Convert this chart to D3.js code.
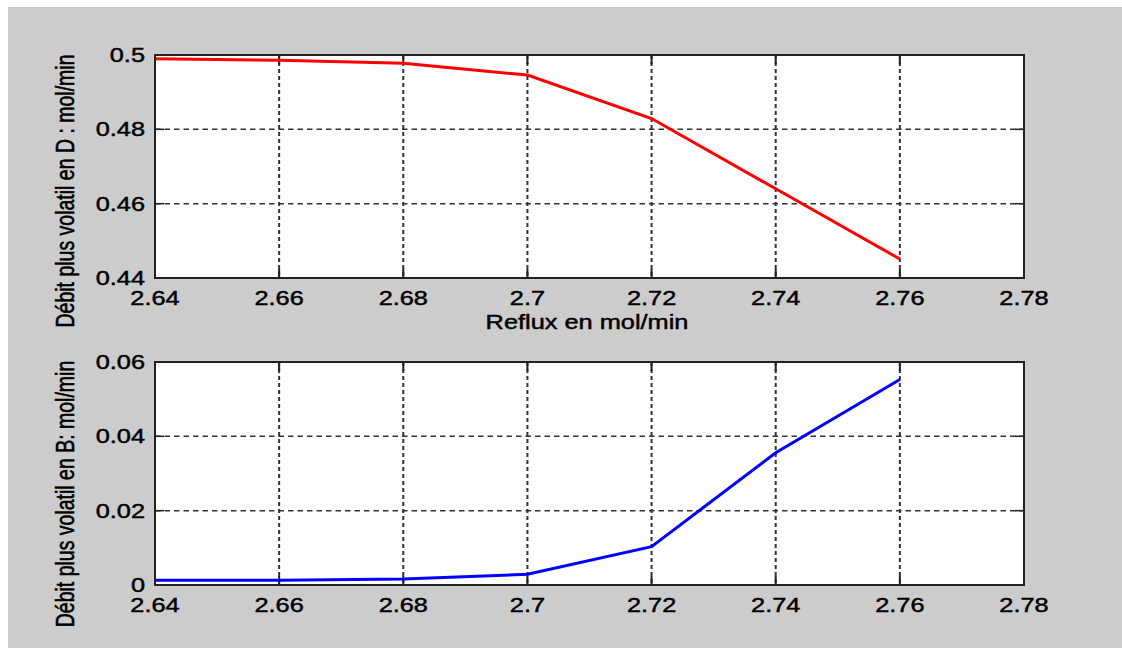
<!DOCTYPE html>
<html>
  <head>
    <meta charset="utf-8" />
    <script src="https://d3js.org/d3.v7.min.js"></script>
    <style>
      body { margin: 0; background: #fff; }
      text { font-family: Arial, "Liberation Sans", sans-serif; fill: #000; stroke: #000; stroke-width: 0.45px; }
    </style>
  </head>
  <body>
    <div id="chart"></div>
    <script>
      // reflux values (x) and the two outputs
      const reflux = [2.64, 2.66, 2.68, 2.7, 2.72, 2.74, 2.76];
      const debitD = [0.499, 0.4986, 0.4978, 0.4946, 0.4829, 0.464, 0.4451];
      const debitB = [0.0013, 0.0013, 0.0016, 0.0029, 0.0103, 0.0356, 0.0553];

      const xTicks = [2.64, 2.66, 2.68, 2.7, 2.72, 2.74, 2.76, 2.78];
      const yTicksD = [0.44, 0.46, 0.48, 0.5];
      const yTicksB = [0, 0.02, 0.04, 0.06];

      const width = 1122;
      const height = 648;
      const stretch = 1.3; // picture is wider than tall, text looks stretched
      const fontSize = 19.5;

      const svg = d3.select("#chart").append("svg").attr("width", width).attr("height", height);

      svg.append("rect").attr("x", 8).attr("y", 7).attr("width", width - 8).attr("height", height - 7).attr("fill", "#cccccc");

      const x = d3.scaleLinear().domain([2.64, 2.78]).range([155, 1024]);

      function label(g, tx, ty, str, anchor, rotate, dy) {
        g.append("text")
          .attr("transform", `translate(${tx},${ty}) scale(${stretch},1)` + (rotate ? " rotate(-90)" : ""))
          .attr("text-anchor", anchor)
          .attr("dy", dy || 0)
          .style("font-size", fontSize + "px")
          .text(str);
      }

      function panel(y, values, yTicks, color, ylabel, ylabelY, xlabel) {
        const g = svg.append("g");
        const [y0, y1] = y.range();

        g.append("rect")
          .attr("x", x.range()[0])
          .attr("y", y1)
          .attr("width", x.range()[1] - x.range()[0])
          .attr("height", y0 - y1)
          .attr("fill", "#fff");

        // grid
        g.selectAll(".vgrid")
          .data(xTicks.slice(1, -1))
          .enter()
          .append("line")
          .attr("x1", (d) => x(d))
          .attr("x2", (d) => x(d))
          .attr("y1", y1)
          .attr("y2", y0)
          .style("stroke", "#333")
          .style("stroke-width", 2)
          .style("stroke-dasharray", "4,3");
        g.selectAll(".hgrid")
          .data(yTicks.slice(1, -1))
          .enter()
          .append("line")
          .attr("x1", x.range()[0])
          .attr("x2", x.range()[1])
          .attr("y1", (d) => y(d))
          .attr("y2", (d) => y(d))
          .style("stroke", "#333")
          .style("stroke-width", 1.5)
          .style("stroke-dasharray", "5.5,4");

        // ticks pointing inward on all four sides
        const tl = 9;
        xTicks.forEach((t) => {
          g.append("line").attr("x1", x(t)).attr("x2", x(t)).attr("y1", y0).attr("y2", y0 - tl).style("stroke", "#222").style("stroke-width", 2);
          g.append("line").attr("x1", x(t)).attr("x2", x(t)).attr("y1", y1).attr("y2", y1 + tl).style("stroke", "#222").style("stroke-width", 2);
        });
        yTicks.forEach((t) => {
          g.append("line").attr("x1", x.range()[0]).attr("x2", x.range()[0] + tl).attr("y1", y(t)).attr("y2", y(t)).style("stroke", "#222").style("stroke-width", 1.5);
          g.append("line").attr("x1", x.range()[1]).attr("x2", x.range()[1] - tl).attr("y1", y(t)).attr("y2", y(t)).style("stroke", "#222").style("stroke-width", 1.5);
        });

        g.append("path")
          .datum(reflux.map((r, i) => [r, values[i]]))
          .attr("d", d3.line().x((d) => x(d[0])).y((d) => y(d[1])))
          .style("fill", "none")
          .style("stroke", color)
          .style("stroke-width", 3);

        g.append("rect")
          .attr("x", x.range()[0])
          .attr("y", y1)
          .attr("width", x.range()[1] - x.range()[0])
          .attr("height", y0 - y1)
          .attr("fill", "none")
          .style("stroke", "#222")
          .style("stroke-width", 2);

        // tick labels
        xTicks.forEach((t) => label(g, x(t), y0 + 27, d3.format("~g")(t), "middle"));
        yTicks.forEach((t) => label(g, 145, y(t), d3.format("~g")(t), "end", false, "0.36em"));

        label(g, 74, ylabelY, ylabel, "middle", true);
        if (xlabel) label(g, 587, y0 + 51, xlabel, "middle");
      }

      const yD = d3.scaleLinear().domain([0.44, 0.5]).range([278, 55]);
      const yB = d3.scaleLinear().domain([0, 0.06]).range([585, 362]);

      panel(yD, debitD, yTicksD, "#ff0000", "Débit plus volatil en D :  mol/min", 191, "Reflux en mol/min");
      panel(yB, debitB, yTicksB, "#0000ff", "Débit plus volatil en B: mol/min", 494, null);
    </script>
  </body>
</html>
